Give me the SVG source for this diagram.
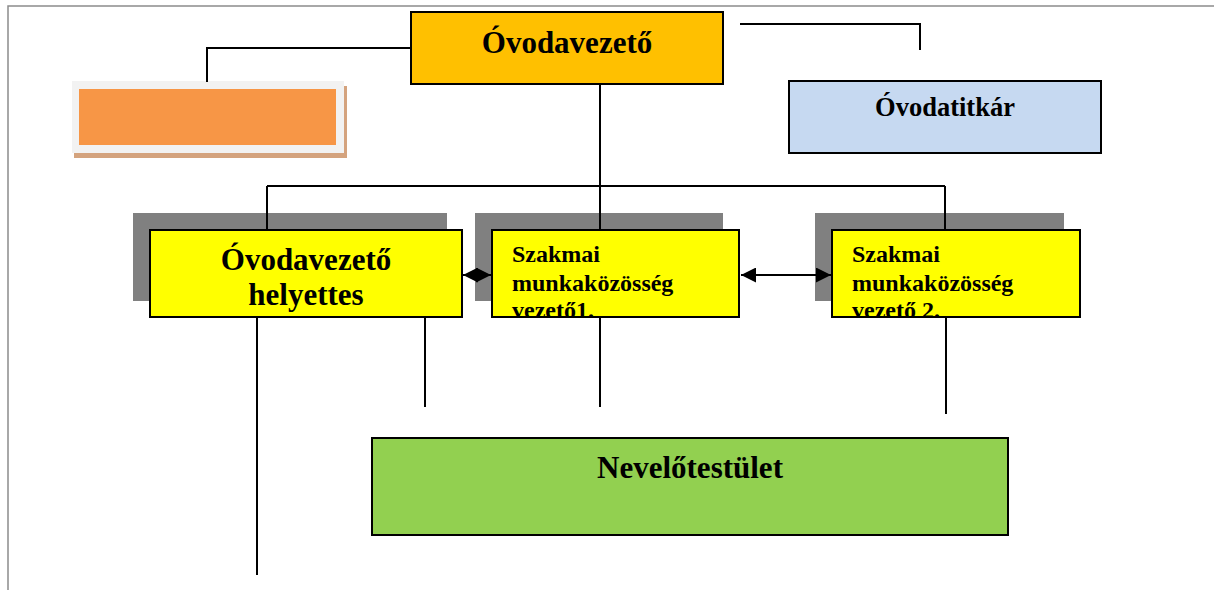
<svg xmlns="http://www.w3.org/2000/svg" width="1214" height="590" viewBox="0 0 1214 590">
<style>
text{font-family:"Liberation Serif","Times New Roman",serif;font-weight:bold;fill:#000}
.box{stroke:#000;stroke-width:2}
.ln{stroke:#000;stroke-width:2;fill:none}
.shadow{fill:#808080}
.big{font-size:31px}
.mid{font-size:24px}
</style>
<defs>
<marker id="ah" viewBox="0 0 10 10" refX="10" refY="5" markerWidth="15" markerHeight="15" markerUnits="userSpaceOnUse" orient="auto-start-reverse"><path d="M0,0 L10,5 L0,10 z" fill="#000"/></marker>
<clipPath id="c2"><rect x="492" y="230" width="247" height="87"/></clipPath>
<clipPath id="c3"><rect x="832" y="230" width="248" height="87"/></clipPath>
</defs>
<rect width="1214" height="590" fill="#fff"/>
<path d="M8,590 V6 H1214" stroke="#8c8c8c" stroke-width="1.5" fill="none"/>
<g id="ovodavezeto">
<rect class="box" x="411" y="12" width="312" height="72" fill="#FFC000"/>
<text class="big" x="567" y="53" text-anchor="middle">Óvodavezető</text>
</g>
<g id="orange">
<rect x="74" y="86" width="273" height="72" fill="#D4A37E"/>
<rect x="72" y="81" width="272" height="72" fill="#F2F2F2"/>
<rect x="79" y="89" width="257" height="56" fill="#F79646"/>
</g>
<g id="ovodatitkar">
<rect class="box" x="789" y="81" width="312" height="72" fill="#C6D9F1"/>
<text x="945" y="116" text-anchor="middle" font-size="26.5">Óvodatitkár</text>
</g>
<g id="helyettes">
<rect class="shadow" x="133" y="213" width="314" height="88"/>
<rect class="box" x="150" y="230" width="312" height="87" fill="#FFFF00"/>
<text class="big" x="306" y="270" text-anchor="middle">Óvodavezető</text>
<text class="big" x="306" y="305" text-anchor="middle">helyettes</text>
</g>
<g id="szakmai1">
<rect class="shadow" x="475" y="213" width="248" height="88"/>
<rect x="492" y="230" width="247" height="87" fill="#FFFF00"/>
<g clip-path="url(#c2)">
<text class="mid" x="512" y="262">Szakmai</text>
<text class="mid" x="512" y="291">munkaközösség</text>
<text class="mid" x="512" y="318">vezető1.</text>
</g>
<rect class="box" x="492" y="230" width="247" height="87" fill="none"/>
</g>
<g id="szakmai2">
<rect class="shadow" x="815" y="213" width="249" height="88"/>
<rect x="832" y="230" width="248" height="87" fill="#FFFF00"/>
<g clip-path="url(#c3)">
<text class="mid" x="852" y="262">Szakmai</text>
<text class="mid" x="852" y="291">munkaközösség</text>
<text class="mid" x="852" y="318">vezető 2.</text>
</g>
<rect class="box" x="832" y="230" width="248" height="87" fill="none"/>
</g>
<g id="nevelotestulet">
<rect class="box" x="372" y="438" width="636" height="97" fill="#92D050"/>
<text class="big" x="690" y="478" text-anchor="middle">Nevelőtestület</text>
</g>
<g id="connectors">
<path class="ln" d="M411,48 H207 V82"/>
<path class="ln" d="M740,24 H920 V50"/>
<path class="ln" d="M600,85 V186"/>
<path class="ln" d="M267,186 H945"/>
<path class="ln" d="M267,186 V229"/>
<path class="ln" d="M600,186 V229"/>
<path class="ln" d="M945,186 V229"/>
<line class="ln" x1="463" y1="275" x2="491" y2="275" marker-start="url(#ah)" marker-end="url(#ah)"/>
<line class="ln" x1="741" y1="275" x2="831" y2="275" marker-start="url(#ah)" marker-end="url(#ah)"/>
<path class="ln" d="M257,318 V575"/>
<path class="ln" d="M425,318 V407"/>
<path class="ln" d="M600,318 V407"/>
<path class="ln" d="M946,318 V414"/>
</g>
</svg>
